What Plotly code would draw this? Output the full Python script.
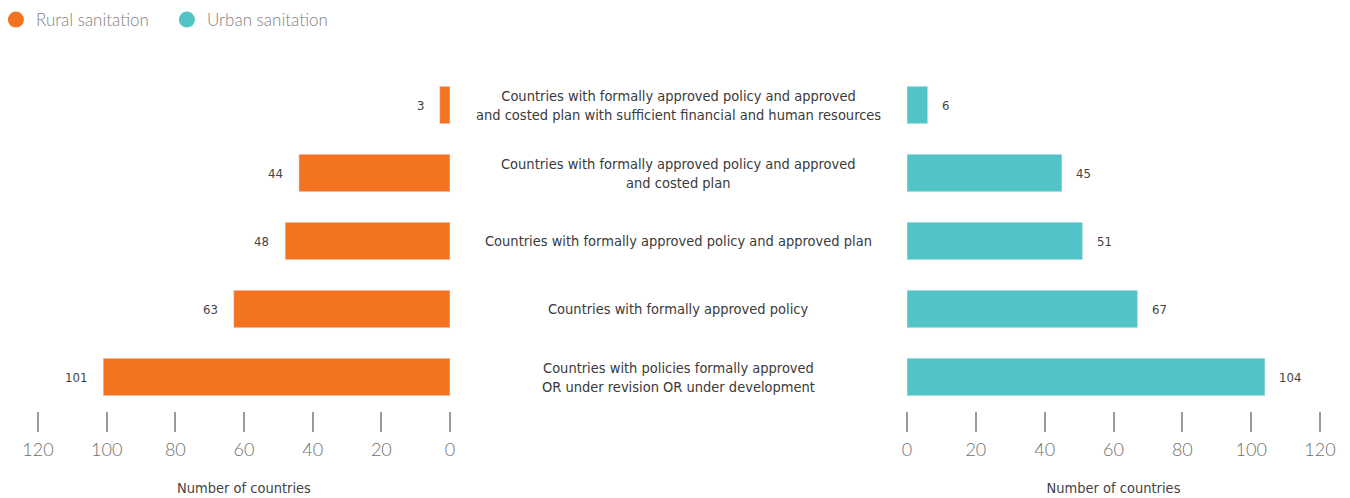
import plotly.graph_objects as go

categories = [
    "Countries with policies formally approved<br>OR under revision OR under development",
    "Countries with formally approved policy",
    "Countries with formally approved policy and approved plan",
    "Countries with formally approved policy and approved<br>and costed plan",
    "Countries with formally approved policy and approved<br>and costed plan with sufficient financial and human resources",
]
rural = [101, 63, 48, 44, 3]
urban = [104, 67, 51, 45, 6]
ticks = [0, 20, 40, 60, 80, 100, 120]

ORANGE = "#F37321"
TEAL = "#52C3C6"
COND = "DejaVu Sans Condensed, Liberation Sans Narrow, sans-serif"
LIGHT = "Lato, Open Sans, sans-serif"

fig = go.Figure()
fig.add_trace(go.Bar(y=categories, x=rural, orientation="h", marker_color=ORANGE,
                     xaxis="x", yaxis="y", width=0.55, showlegend=False))
fig.add_trace(go.Bar(y=categories, x=urban, orientation="h", marker_color=TEAL,
                     xaxis="x2", yaxis="y", width=0.55, showlegend=False))
# legend entries
fig.add_trace(go.Scatter(x=[None], y=[None], mode="markers", name="Rural sanitation",
                         marker=dict(color=ORANGE, size=17, symbol="circle")))
fig.add_trace(go.Scatter(x=[None], y=[None], mode="markers", name="Urban sanitation",
                         marker=dict(color=TEAL, size=17, symbol="circle")))

annotations = []
for c, v in zip(categories, rural):
    annotations.append(dict(x=v, y=c, xref="x", yref="y", text=str(v), showarrow=False,
                            xanchor="right", xshift=-14,
                            font=dict(family=COND, size=13, color="#444")))
for c, v in zip(categories, urban):
    annotations.append(dict(x=v, y=c, xref="x2", yref="y", text=str(v), showarrow=False,
                            xanchor="left", xshift=12,
                            font=dict(family=COND, size=13, color="#444")))
for c in categories:
    annotations.append(dict(x=0.4993, y=c, xref="paper", yref="y", text=c, showarrow=False,
                            xanchor="center", align="center",
                            font=dict(family=COND, size=14.5, color="#3a3a3a")))

axis_common = dict(
    tickvals=ticks, ticktext=[str(t) for t in ticks],
    ticks="outside", ticklen=20, tickwidth=1.5, tickcolor="#9a9a9a",
    showline=False, showgrid=False, zeroline=False, automargin=False,
    ticklabelstandoff=2,
    tickfont=dict(family=LIGHT, size=18, color="#6e6e6e", weight=300),
    title=dict(text="Number of countries", standoff=24,
               font=dict(family=COND, size=14.5, color="#444")),
    anchor="y",
)

fig.update_layout(
    width=1342, height=490,
    margin=dict(l=0, r=0, t=63, b=87, autoexpand=False),
    paper_bgcolor="white", plot_bgcolor="white",
    barmode="overlay",
    xaxis=dict(domain=[0.02235, 0.32936], range=[120, 0], **axis_common),
    xaxis2=dict(domain=[0.66990, 0.97765], range=[0, 120], **axis_common),
    yaxis=dict(categoryorder="array", categoryarray=categories, range=[-0.5, 4.5],
               showticklabels=False, showgrid=False, zeroline=False, showline=False,
               ticks="", automargin=False),
    legend=dict(orientation="h", x=-0.009, y=1.15,
                xanchor="left", yanchor="middle",
                font=dict(family=LIGHT, size=17, color="#808080", weight=300),
                itemwidth=30, entrywidth=126, entrywidthmode="pixels"),
    annotations=annotations,
)

fig.write_html("out.html")
